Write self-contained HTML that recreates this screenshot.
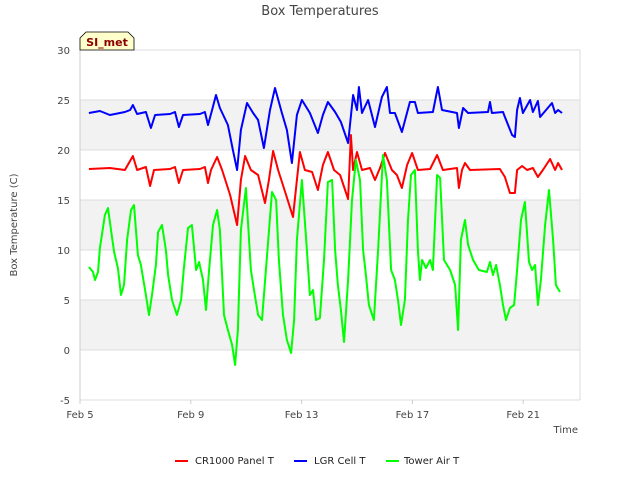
<!DOCTYPE html>
<html><head><meta charset="utf-8"><style>
body{margin:0;background:#fff;font-family:"Liberation Sans","DejaVu Sans",sans-serif}
svg text{font-family:"DejaVu Sans","Liberation Sans",sans-serif}
</style></head><body>
<svg id="chart" width="640" height="480" xmlns="http://www.w3.org/2000/svg">
<text x="320" y="15" text-anchor="middle" font-size="13" fill="#444">Box Temperatures</text>
<text transform="translate(17,225) rotate(-90)" text-anchor="middle" font-size="10" fill="#444">Box Temperature (C)</text>
<text x="578" y="433" text-anchor="end" font-size="10" fill="#444">Time</text>
<g id="bands"></g><g id="grid"></g><g id="ticks"></g><g id="series"></g>
<g>
<path d="M80,50 L80,38 L86,32 L128,32 L134,38 L134,50 Z" fill="#ffffcc" stroke="#000" stroke-width="0.8"/>
<text x="107" y="46" text-anchor="middle" font-size="11" font-weight="bold" fill="#8b0000">SI_met</text>
</g>
<g font-size="10" fill="#222">
<g><line x1="175" y1="461" x2="188" y2="461" stroke="#f00" stroke-width="2"/><text x="195" y="464">CR1000 Panel T</text></g>
<g><line x1="294" y1="461" x2="307" y2="461" stroke="#00f" stroke-width="2"/><text x="314" y="464">LGR Cell T</text></g>
<g><line x1="386" y1="461" x2="399" y2="461" stroke="#0f0" stroke-width="2"/><text x="404" y="464">Tower Air T</text></g>
</g>
</svg>
<script>
const xTickLabels=["Feb 5","Feb 9","Feb 13","Feb 17","Feb 21"];
const xTickDays=[0,4,8,12,16];
const yTicks=[-5,0,5,10,15,20,25,30];
const redDays=[.32,1.08,1.62,1.91,2.06,2.38,2.53,2.67,3.25,3.43,3.57,3.72,4.33,4.51,4.62,4.73,4.95,5.13,5.42,5.67,5.81,5.96,6.17,6.43,6.68,6.82,6.97,7.15,7.44,7.69,7.83,7.94,8.12,8.38,8.59,8.77,8.95,9.17,9.39,9.68,9.78,9.86,10.0,10.18,10.47,10.65,10.83,11.01,11.26,11.44,11.62,11.81,11.99,12.20,12.64,12.89,13.10,13.61,13.68,13.79,13.90,14.08,15.16,15.34,15.52,15.70,15.78,15.96,16.14,16.35,16.53,16.71,16.97,17.15,17.26,17.40];
const redVals=[18.1,18.2,18.0,19.4,18.0,18.3,16.4,18.0,18.1,18.3,16.7,18.0,18.1,18.3,16.7,18.0,19.3,18.0,15.5,12.5,17.0,19.4,18.0,17.5,14.7,17.0,19.9,18.0,15.5,13.3,17.0,19.8,18.0,17.8,16.0,18.5,19.8,18.0,17.5,15.1,21.5,18.0,19.8,18.0,18.2,17.0,18.2,19.7,18.0,17.5,16.2,18.5,19.7,18.0,18.1,19.5,18.0,18.2,16.2,18.0,18.7,18.0,18.1,17.3,15.7,15.7,18.0,18.4,18.0,18.2,17.3,18.0,19.1,18.0,18.7,18.0];
const blueDays=[.32,.72,1.08,1.62,1.81,1.91,2.06,2.38,2.56,2.71,3.25,3.43,3.57,3.72,4.33,4.51,4.62,4.77,4.91,5.05,5.34,5.52,5.67,5.81,6.03,6.25,6.43,6.64,6.86,7.04,7.29,7.47,7.65,7.83,8.01,8.30,8.59,8.77,8.95,9.21,9.42,9.68,9.86,10.0,10.07,10.18,10.40,10.65,10.90,11.08,11.19,11.37,11.62,11.91,12.09,12.20,12.74,12.92,13.07,13.61,13.68,13.83,14.01,14.73,14.80,14.87,15.27,15.34,15.60,15.70,15.78,15.88,15.99,16.25,16.35,16.53,16.61,17.04,17.15,17.26,17.40];
const blueVals=[23.7,23.9,23.5,23.8,24.0,24.5,23.6,23.8,22.2,23.5,23.6,23.8,22.3,23.5,23.6,23.8,22.5,24.0,25.5,24.2,22.5,20.0,18.0,22.0,24.7,23.7,23.0,20.2,24.0,26.2,23.7,22.0,18.7,23.5,25.0,23.7,21.7,23.5,24.8,23.8,22.8,20.7,25.5,24.0,26.3,23.7,25.0,22.3,25.3,26.3,23.7,23.7,21.8,24.8,24.8,23.7,23.8,26.3,24.0,23.7,22.2,24.2,23.7,23.8,24.8,23.7,23.8,23.3,21.5,21.3,24.0,25.2,23.7,25.0,23.8,24.9,23.3,24.7,23.7,24.0,23.7];
const greenDays=[.32,.47,.54,.65,.72,.79,.90,1.01,1.12,1.23,1.37,1.48,1.59,1.70,1.84,1.95,2.09,2.20,2.38,2.49,2.60,2.74,2.82,2.96,3.10,3.18,3.32,3.50,3.65,3.75,3.90,4.04,4.19,4.30,4.44,4.55,4.66,4.80,4.95,5.05,5.20,5.34,5.49,5.60,5.70,5.81,5.99,6.17,6.28,6.43,6.57,6.71,6.93,7.08,7.18,7.33,7.47,7.62,7.73,7.83,8.01,8.19,8.30,8.41,8.52,8.66,8.81,8.95,9.10,9.21,9.31,9.42,9.53,9.68,9.82,9.96,10.11,10.22,10.32,10.43,10.61,10.76,10.94,11.08,11.23,11.37,11.48,11.59,11.73,11.84,11.95,12.09,12.20,12.27,12.35,12.49,12.64,12.74,12.89,13.00,13.14,13.36,13.54,13.65,13.75,13.90,14.01,14.19,14.40,14.69,14.80,14.91,15.02,15.16,15.27,15.38,15.52,15.67,15.78,15.92,16.06,16.21,16.32,16.43,16.53,16.64,16.79,16.93,17.08,17.18,17.33];
const greenVals=[8.3,7.8,7.0,7.8,10.2,11.5,13.5,14.2,12.0,9.8,8.2,5.5,6.5,11.0,14.0,14.5,9.5,8.5,5.5,3.5,5.5,8.5,11.8,12.5,10.0,7.5,5.0,3.5,5.0,8.2,12.2,12.5,8.0,8.8,7.0,4.0,8.0,12.5,14.0,12.0,3.5,2.0,0.5,-1.5,2.0,12.0,16.2,8.0,6.0,3.5,3.0,8.0,15.8,15.0,9.0,3.5,1.0,-0.3,3.0,11.0,17.0,10.0,5.5,6.0,3.0,3.2,9.0,16.8,17.0,10.0,6.5,4.0,0.8,7.0,15.0,19.0,17.0,10.0,7.5,4.5,3.0,10.0,19.5,17.0,8.0,7.0,5.0,2.5,5.0,13.0,17.5,18.0,10.0,7.0,9.0,8.2,9.0,8.0,17.5,17.2,9.0,8.0,6.5,2.0,11.0,13.0,10.5,9.0,8.0,7.8,8.8,7.5,8.5,6.5,4.5,3.0,4.2,4.5,8.0,13.0,14.8,8.8,8.0,8.5,4.5,7.0,12.5,16.0,11.0,6.5,5.8];
const NS="http://www.w3.org/2000/svg";
const X0=80,X1=580,Y0=50,Y1=400;
function xs(d){return X0+d*27.7;}
function ys(v){return Y1-(v+5)*(Y1-Y0)/35;}
function mk(t,a,p){const e=document.createElementNS(NS,t);for(const k in a)e.setAttribute(k,a[k]);p.appendChild(e);return e;}
const bands=document.getElementById('bands'),grid=document.getElementById('grid'),ticks=document.getElementById('ticks'),series=document.getElementById('series');
[[20,25],[10,15],[0,5]].forEach(b=>{const r=mk('rect',{x:X0,y:ys(b[1]),width:X1-X0,height:ys(b[0])-ys(b[1]),fill:'#f2f2f2'},bands);

});
yTicks.forEach(v=>{const l=mk('line',{x1:X0,x2:X1,y1:ys(v),y2:ys(v),stroke:'#dcdcdc','stroke-width':1},grid);


const t=mk('text',{x:70,y:ys(v)+4,'text-anchor':'end','font-size':10,fill:'#444'},ticks);t.textContent=v;

});
mk('line',{x1:X0,x2:X0,y1:Y0,y2:Y1,stroke:'#ccc'},grid);
mk('line',{x1:X1,x2:X1,y1:Y0,y2:Y1,stroke:'#ddd'},grid);
xTickDays.forEach((d,i)=>{mk('line',{x1:xs(d),x2:xs(d),y1:Y1,y2:Y1+4,stroke:'#ccc'},ticks);
const t=mk('text',{x:xs(d),y:Y1+18,'text-anchor':'middle','font-size':10,fill:'#444'},ticks);t.textContent=xTickLabels[i];

});
function line(days,vals,col,name){const p=mk('polyline',{points:days.map((d,i)=>xs(d).toFixed(1)+','+ys(vals[i]).toFixed(1)).join(' '),fill:'none',stroke:col,'stroke-width':2,'stroke-linejoin':'round'},series);

}
line(redDays,redVals,'#f00','cr1000-panel-t-line');
line(blueDays,blueVals,'#00f','lgr-cell-t-line');
line(greenDays,greenVals,'#0f0','tower-air-t-line');
</script>
</body></html>
